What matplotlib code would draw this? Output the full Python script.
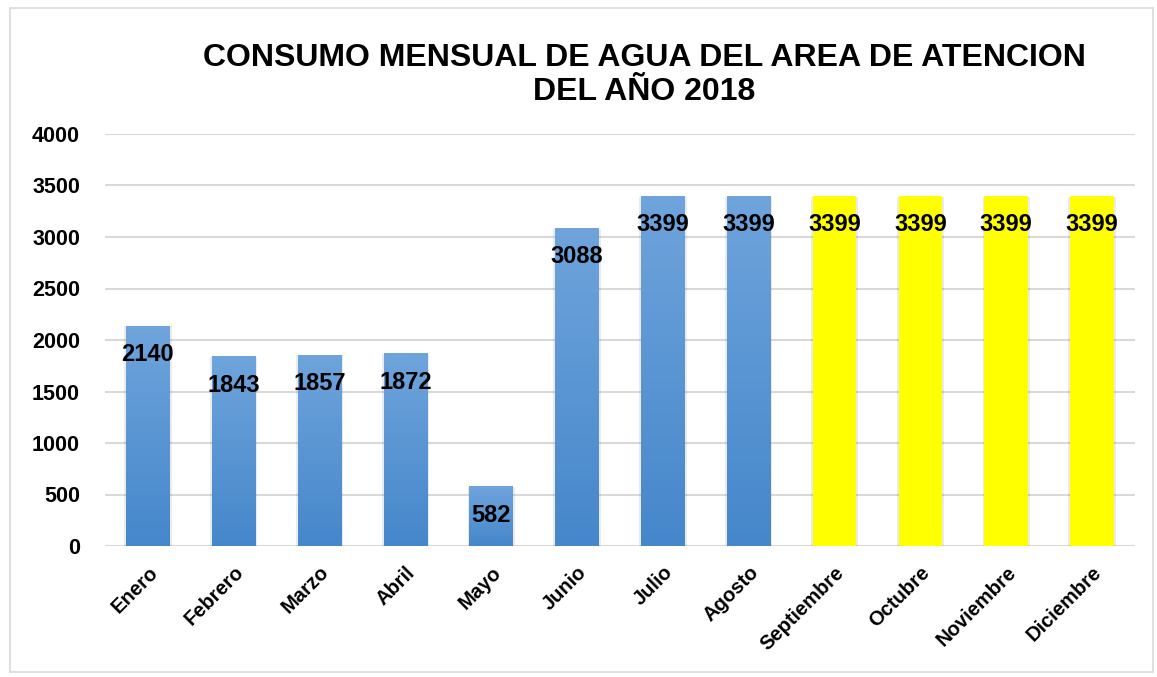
import matplotlib.pyplot as plt
import numpy as np
from matplotlib.patches import Rectangle
from matplotlib.colors import LinearSegmentedColormap

# data
months = ["Enero", "Febrero", "Marzo", "Abril", "Mayo", "Junio", "Julio",
          "Agosto", "Septiembre", "Octubre", "Noviembre", "Diciembre"]
consumo = [2140, 1843, 1857, 1872, 582, 3088, 3399, 3399, 3399, 3399, 3399, 3399]
projected = [False] * 8 + [True] * 4

plt.rcParams["font.family"] = ["Liberation Sans", "DejaVu Sans"]

fig = plt.figure(figsize=(11.57, 6.77), dpi=100)
ax = fig.add_axes([105 / 1157, 1 - 546 / 677, 1030 / 1157, 412 / 677])

x = np.arange(len(months))
width = 0.51

# blue gradient (light top -> darker bottom)
grad = np.linspace(0, 1, 256).reshape(-1, 1)
blue_cmap = LinearSegmentedColormap.from_list("blues", ["#4587CB", "#6FA4DC"])

for xi, val, proj in zip(x, consumo, projected):
    # soft shadow around the bar
    ax.add_patch(Rectangle((xi - width / 2 - 0.02, -12), width + 0.04, val + 6,
                           facecolor="#000000", alpha=0.08, edgecolor="none", zorder=2))
    if proj:
        ax.bar(xi, val, width, color="#FFFF00", zorder=3)
    else:
        b = ax.bar(xi, val, width, color="#5B9BD5", zorder=3)[0]
        im = ax.imshow(grad, cmap=blue_cmap, aspect="auto", origin="lower",
                       extent=[xi - width / 2, xi + width / 2, 0, val], zorder=3.5)
        im.set_clip_path(b)

    ax.annotate(str(val), (xi, val), xytext=(0, -29), textcoords="offset pixels",
                ha="center", va="center", fontsize=17, fontweight="bold",
                color="black", zorder=5)

ax.set_xlim(-0.5, len(months) - 0.5)
ax.set_ylim(0, 4000)
ax.set_yticks(np.arange(0, 4001, 500))
ax.yaxis.grid(True, color="#D9D9D9", linewidth=1.5, zorder=0)
ax.set_axisbelow(True)
for s in ax.spines.values():
    s.set_visible(False)
ax.tick_params(axis="both", length=0)
ax.tick_params(axis="y", pad=18)
for t in ax.get_yticklabels():
    t.set_fontsize(15.5)
    t.set_fontweight("bold")

ax.set_xticks(x)
ax.set_xticklabels(months, rotation=45, ha="right", rotation_mode="anchor",
                   fontsize=14.5, fontweight="bold")
ax.tick_params(axis="x", pad=12)

fig.text(0.557, 0.889, "CONSUMO MENSUAL DE AGUA DEL AREA DE ATENCION\nDEL AÑO 2018",
         ha="center", va="center", fontsize=23, fontweight="bold", linespacing=1.2)

# chart frame
fig.patches.append(Rectangle((10 / 1157, 5 / 677), 1143 / 1157, 664 / 677,
                             transform=fig.transFigure, fill=False,
                             edgecolor="#D9D9D9", linewidth=1.2))

fig.savefig("out.png", dpi=100)
